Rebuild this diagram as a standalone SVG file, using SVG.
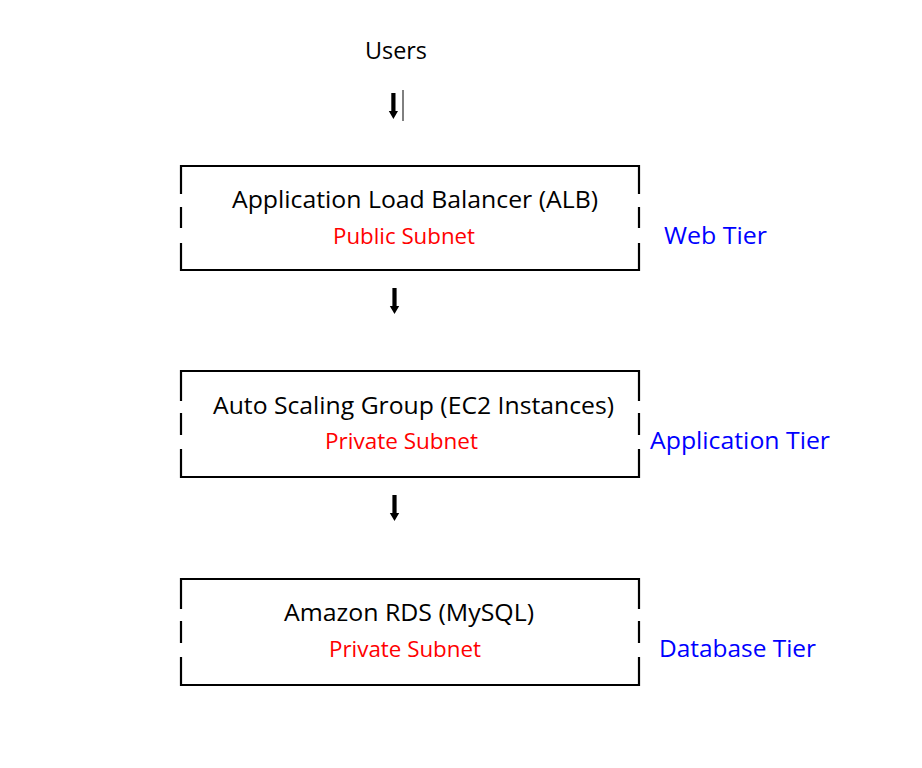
<svg xmlns="http://www.w3.org/2000/svg" width="922" height="768" viewBox="0 0 922 768">
<style>
.box{fill:none;stroke:#000;stroke-width:2.2}
.t{font-family:"Open Sans","Noto Sans",sans-serif;font-size:23px;fill:#000}
.r{font-family:"Open Sans","Noto Sans",sans-serif;font-size:21px;fill:#ff0000}
.b{font-family:"Open Sans","Noto Sans",sans-serif;font-size:23px;fill:#0000ff}
.arr{fill:#000}
</style>
<rect width="922" height="768" fill="#fff"/>
<g id="users">
<text class="t" x="365" y="59" textLength="62" lengthAdjust="spacingAndGlyphs">Users</text>
</g>
<g id="alb">
<path class="box" d="M181,194 V166 H639 V194 M181,207 V228 M639,207 V228 M181,243 V270 H639 V243"/>
<text class="t" x="232" y="208" textLength="366" lengthAdjust="spacingAndGlyphs">Application Load Balancer (ALB)</text>
<text class="r" x="333" y="244" textLength="142" lengthAdjust="spacingAndGlyphs">Public Subnet</text>
</g>
<g id="web-tier">
<text class="b" x="664" y="244" textLength="103" lengthAdjust="spacingAndGlyphs">Web Tier</text>
</g>
<g id="asg">
<path class="box" d="M181,401 V371 H639 V401 M181,413 V435 M639,413 V435 M181,449 V477 H639 V449"/>
<text class="t" x="213" y="414" textLength="401" lengthAdjust="spacingAndGlyphs">Auto Scaling Group (EC2 Instances)</text>
<text class="r" x="325" y="449" textLength="153" lengthAdjust="spacingAndGlyphs">Private Subnet</text>
</g>
<g id="app-tier">
<text class="b" x="650" y="449" textLength="180" lengthAdjust="spacingAndGlyphs">Application Tier</text>
</g>
<g id="rds">
<path class="box" d="M181,609 V579 H639 V609 M181,621 V643 M639,621 V643 M181,657 V685 H639 V657"/>
<text class="t" x="284" y="621" textLength="250" lengthAdjust="spacingAndGlyphs">Amazon RDS (MySQL)</text>
<text class="r" x="329" y="657" textLength="152" lengthAdjust="spacingAndGlyphs">Private Subnet</text>
</g>
<g id="db-tier">
<text class="b" x="659" y="657" textLength="157" lengthAdjust="spacingAndGlyphs">Database Tier</text>
</g>
<g id="connectors">
<path class="arr" d="M391.3,93 H395.5 V111 H398 L393.4,119 L388.8,111 H391.3 Z"/>
<line x1="403" y1="90" x2="403" y2="121" stroke="#000" stroke-width="1"/>
<path class="arr" d="M392.4,288 H396.6 V306 H399.2 L394.5,314 L389.8,306 H392.4 Z"/>
<path class="arr" d="M392.4,495 H396.6 V513 H399.2 L394.5,521 L389.8,513 H392.4 Z"/>
</g>
</svg>
